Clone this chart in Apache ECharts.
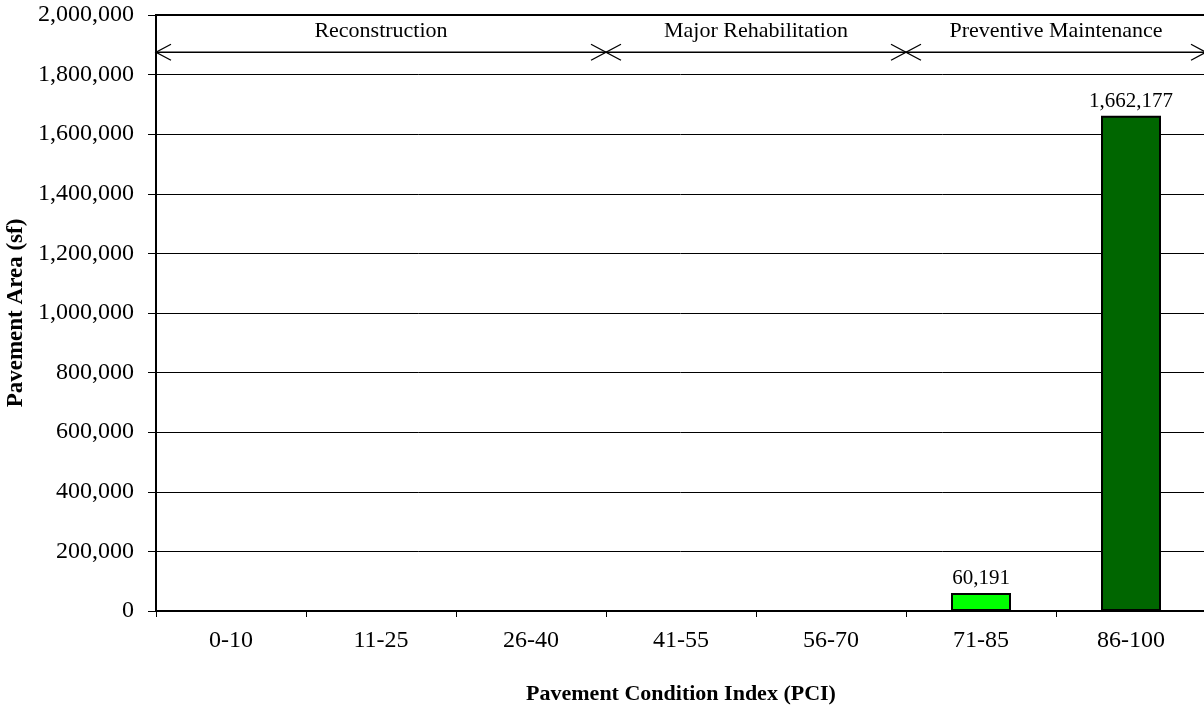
<!DOCTYPE html>
<html>
<head>
<meta charset="utf-8">
<script src="https://cdn.jsdelivr.net/npm/echarts@6/dist/echarts.min.js"></script>
<style>html,body{margin:0;padding:0;background:#fff;overflow:hidden;}#c{width:1204px;height:712px;}</style>
</head>
<body>
<div id="c"></div>
<script>
const categories = ['0-10', '11-25', '26-40', '41-55', '56-70', '71-85', '86-100'];
const areaValues = [0, 0, 0, 0, 0, 60191, 1662177];
const barColors = ['#00ff00', '#00ff00', '#00ff00', '#00ff00', '#00ff00', '#00ff00', '#006600'];
const yTicks = [0, 200000, 400000, 600000, 800000, 1000000, 1200000, 1400000, 1600000, 1800000, 2000000];
const zoneLabels = ['Reconstruction', 'Major Rehabilitation', 'Preventive Maintenance'];
const zoneStart = [0, 3, 5];
const zoneEnd = [3, 5, 7];
const zoneLevel = 1875000;

const font = '"Liberation Serif", "Times New Roman", serif';
const fmt = v => v.toLocaleString('en-US');

const chart = echarts.init(document.getElementById('c'));
chart.setOption({
  animation: false,
  backgroundColor: '#fff',
  textStyle: { fontFamily: font },
  grid: { left: 156, top: 15, width: 1050, height: 596, containLabel: false, outerBoundsMode: 'none',
          show: true, borderColor: '#000', borderWidth: 2, backgroundColor: 'transparent' },
  xAxis: [{
    type: 'category',
    data: categories,
    boundaryGap: true,
    axisLine: { lineStyle: { color: '#000', width: 2 } },
    axisTick: { show: true, length: 6, lineStyle: { color: '#000', width: 1 } },
    axisLabel: { color: '#000', fontSize: 24, fontFamily: font, margin: 18 },
    name: 'Pavement Condition Index (PCI)',
    nameLocation: 'middle',
    nameGap: 72,
    nameTextStyle: { color: '#000', fontSize: 22, fontWeight: 'bold', fontFamily: font }
  }, {
    type: 'value', min: 0, max: 7, show: false
  }],
  yAxis: {
    type: 'value',
    min: yTicks[0],
    max: yTicks[yTicks.length - 1],
    interval: 200000,
    axisLine: { show: true, lineStyle: { color: '#000', width: 2 } },
    axisTick: { show: true, length: 8, lineStyle: { color: '#000' } },
    axisLabel: { color: '#000', fontSize: 24, fontFamily: font, margin: 22, formatter: v => fmt(v) },
    splitLine: { show: true, lineStyle: { color: '#000', width: 1 } },
    name: 'Pavement Area (sf)',
    nameLocation: 'middle',
    nameGap: 110,
    nameRotate: 90,
    nameTextStyle: { color: '#000', fontSize: 23, fontWeight: 'bold', fontFamily: font }
  },
  series: [{
    type: 'bar',
    data: areaValues.map((v, i) => ({ value: v, itemStyle: { color: barColors[i] } })),
    barWidth: 60,
    itemStyle: { borderColor: '#000', borderWidth: 2 },
    label: {
      show: true, position: 'top', distance: 4, color: '#000', fontSize: 21, fontFamily: font,
      formatter: p => p.value ? fmt(p.value) : ''
    }
  }, {
    type: 'custom',
    xAxisIndex: 1,
    yAxisIndex: 0,
    clip: false,
    data: zoneLabels.map((l, i) => [zoneStart[i], zoneEnd[i], zoneLevel]),
    renderItem: (params, api) => {
      const p1 = api.coord([api.value(0), api.value(2)]);
      const p2 = api.coord([api.value(1), api.value(2)]);
      const ls = { stroke: '#000', lineWidth: 1.3, fill: null };
      const ah = 15, aw = 8;
      return {
        type: 'group',
        children: [
          { type: 'line', shape: { x1: p1[0], y1: p1[1], x2: p2[0], y2: p2[1] }, style: ls },
          { type: 'polyline', shape: { points: [[p1[0] + ah, p1[1] - aw], [p1[0], p1[1]], [p1[0] + ah, p1[1] + aw]] }, style: ls },
          { type: 'polyline', shape: { points: [[p2[0] - ah, p2[1] - aw], [p2[0], p2[1]], [p2[0] - ah, p2[1] + aw]] }, style: ls },
          { type: 'text', x: (p1[0] + p2[0]) / 2, y: p1[1] - 10,
            style: { text: zoneLabels[params.dataIndex], fill: '#000', font: '22px ' + font, align: 'center', verticalAlign: 'bottom' } }
        ]
      };
    }
  }]
});
</script>
</body>
</html>
